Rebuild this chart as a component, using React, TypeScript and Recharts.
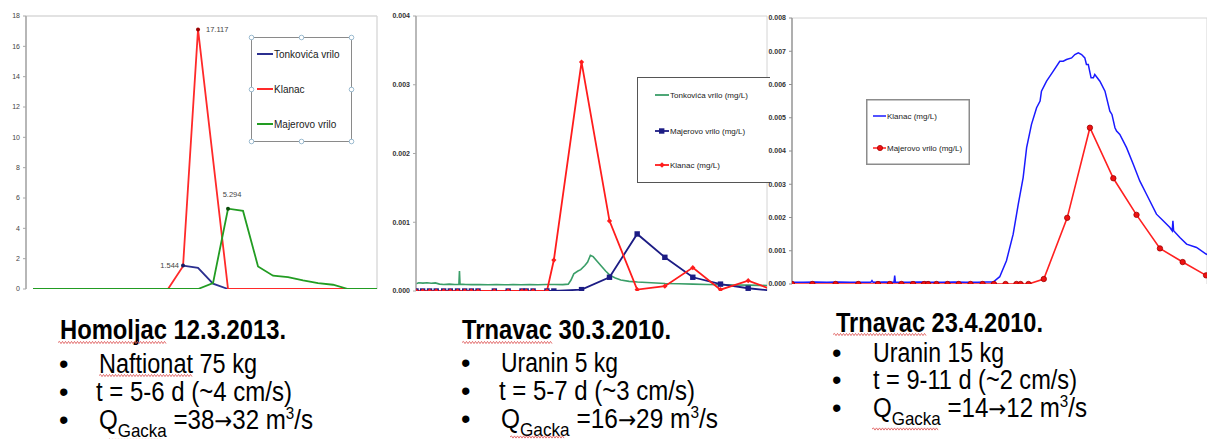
import React from 'react';
import { LineChart, Line, XAxis, YAxis, CartesianGrid, ReferenceLine, ReferenceDot, Legend } from 'recharts';

const FONT = '"Liberation Sans", Arial, Helvetica, sans-serif';

// ---------- Chart 1: Homoljac 12.3.2013 (x = sample index) ----------
const c1Names = ['Tonkovića vrilo', 'Klanac', 'Majerovo vrilo'];
const c1Colors = ['#2b2f8f', '#ff2a2a', '#229c22'];
const c1TonkX = [10, 11, 12, 13];
const c1TonkY = [1.544, 1.4, 0.35, 0];
const c1KlanacX = [9, 10, 11, 13, 23];
const c1KlanacY = [0, 1.5, 17.117, 0, 0];
const c1MajX = [0, 11, 12, 13, 14, 15, 16, 17, 18, 19, 20, 21, 23];
const c1MajY = [0, 0, 0.39, 5.294, 5.15, 1.49, 0.88, 0.79, 0.57, 0.39, 0.28, 0, 0];
const c1YTicks = [0, 2, 4, 6, 8, 10, 12, 14, 16, 18];
const c1GridX = [1.533, 3.533, 5.533, 7.533, 9.533, 11.533, 13.533, 15.533, 17.533, 19.533, 21.533];
const c1XDomain = [-0.467, 22.93];

// ---------- Chart 2: Trnavac 30.3.2010 (x = days) ----------
const c2Names = ['Tonkovića vrilo (mg/L)', 'Majerovo vrilo (mg/L)', 'Klanac (mg/L)'];
const c2Colors = ['#3a9e68', '#1c1c84', '#ff1c1c'];
const c2TonkX = [0, 0.1, 0.25, 0.4, 0.55, 0.7, 0.85, 1.0, 1.2, 1.4, 1.55, 1.57, 1.59, 1.8, 2.0, 2.3, 2.6, 2.9, 3.2, 3.5, 3.8, 4.1, 4.4, 4.7, 5.0, 5.3, 5.5, 5.6, 5.7, 5.85, 5.95, 6.1, 6.2, 6.3, 6.4, 6.55, 6.7, 6.85, 7.0, 7.2, 7.4, 7.7, 8.0, 8.5, 9.0, 9.5, 10.0, 10.5, 11.0, 11.5, 12.0, 12.4, 12.7];
const c2TonkY = [0.000105, 0.00012, 0.000115, 0.00012, 0.000112, 0.000118, 0.0001, 0.000095, 0.0001, 0.000095, 0.000097, 0.00029, 0.0001, 0.000095, 0.000093, 0.000095, 0.000092, 0.000094, 0.00009, 0.000093, 0.000092, 0.000095, 0.00009, 0.000094, 0.000095, 0.000093, 0.0001, 0.00016, 0.00025, 0.00029, 0.00031, 0.00037, 0.00042, 0.00052, 0.0005, 0.00043, 0.00036, 0.00029, 0.00023, 0.00019, 0.00016, 0.00014, 0.00013, 0.00012, 0.00011, 0.000105, 0.0001, 0.000095, 0.00009, 0.000088, 0.000085, 0.000082, 0.00008];
const c2MajX = [0, 0.24, 0.49, 0.73, 1.0, 1.24, 1.5, 1.76, 2.0, 2.24, 2.83, 3.33, 3.83, 3.98, 4.23, 4.73, 4.98, 5.98, 6.99, 7.99, 8.99, 10.0, 11.0, 12.0, 13.0];
const c2MajY = [0, 0, 0, 0, 0, 0, 0, 0, 0, 0, 0, 0, 0, 0, 0, 0, 0, 0.00002, 0.0002, 0.00083, 0.00049, 0.0002, 0.0001, 0.00004, 0];
const c2KlanacX = [0, 0.24, 0.49, 0.73, 1.0, 1.24, 1.5, 1.76, 2.0, 2.24, 2.83, 3.33, 3.83, 3.98, 4.23, 4.73, 4.98, 5.98, 6.99, 7.99, 8.99, 10.0, 11.0, 12.0, 13.0];
const c2KlanacY = [0, 0, 0, 0, 0, 0, 0, 0, 0, 0, 0, 0, 0, 0, 0, 0, 0.00045, 0.00333, 0.00102, 0.00002, 0.00007, 0.00034, 0.00002, 0.00015, 0];
const c2YTicks = [0, 0.001, 0.002, 0.003, 0.004];
const c2GridX = [1, 2, 3, 4, 5, 6, 7, 8, 9, 10, 11, 12];
const c2XDomain = [0, 12.68];

// ---------- Chart 3: Trnavac 23.4.2010 (x = days) ----------
const c3Names = ['Klanac (mg/L)', 'Majerovo vrilo (mg/L)'];
const c3Colors = ['#1a1aff', '#ff2020'];
const c3KlanacX = [0, 0.5, 1.0, 1.5, 2.0, 2.5, 3.0, 3.4, 3.45, 3.5, 4.0, 4.4, 4.43, 4.46, 5.0, 5.5, 6.0, 6.5, 7.0, 7.5, 8.0, 8.4, 8.68, 8.96, 9.25, 9.54, 9.76, 9.97, 10.12, 10.33, 10.55, 10.7, 10.76, 10.98, 11.27, 11.55, 11.7, 11.84, 12.06, 12.2, 12.35, 12.49, 12.63, 12.7, 12.78, 12.9, 13.0, 13.06, 13.28, 13.5, 13.71, 13.8, 13.93, 14.0, 14.14, 14.43, 14.72, 15.0, 15.29, 15.72, 16.01, 16.3, 16.4, 16.43, 16.46, 16.73, 17.02, 17.45, 17.86, 17.95];
const c3KlanacY = [0.00005, 0.00005, 0.00006, 0.00005, 0.00006, 0.00005, 0.00005, 0.00005, 0.0001, 0.00005, 0.00006, 0.00005, 0.00025, 0.00005, 0.00005, 0.00006, 0.00005, 0.00005, 0.00006, 0.00005, 0.00005, 0.00006, 0.00006, 0.00022, 0.0007, 0.0015, 0.0024, 0.0032, 0.0041, 0.0048, 0.0053, 0.0055, 0.0058, 0.0061, 0.0064, 0.0067, 0.0067, 0.00675, 0.0068, 0.0069, 0.00695, 0.0069, 0.0068, 0.0066, 0.0066, 0.0062, 0.0062, 0.0063, 0.0061, 0.0058, 0.0052, 0.0051, 0.0047, 0.0046, 0.0045, 0.0041, 0.0036, 0.0031, 0.0027, 0.0021, 0.0019, 0.0017, 0.0016, 0.0019, 0.0016, 0.0014, 0.0012, 0.0011, 0.0009, 0.00088];
const c3MajX = [0, 0.88, 1.88, 2.86, 3.71, 4.22, 4.72, 5.22, 5.7, 5.87, 6.23, 6.71, 7.19, 7.7, 8.22, 8.71, 9.21, 9.68, 9.86, 10.2, 10.86, 11.87, 12.85, 13.86, 14.86, 15.87, 16.85, 17.86];
const c3MajY = [0, 0, 0, 0, 0, 0, 0, 0, 0, 0, 0, 0, 0, 0, 0, 0, 0, 0, 0, 0, 0.00015, 0.00199, 0.0047, 0.00318, 0.00208, 0.00107, 0.00066, 0.00026];
const c3YTicks = [0, 0.001, 0.002, 0.003, 0.004, 0.005, 0.006, 0.007, 0.008];
const c3GridX = [1, 2, 3, 4, 5, 6, 7, 8, 9, 10, 11, 12, 13, 14, 15, 16, 17];
const c3XDomain = [0, 17.9];

// ---------- Text below the charts ----------
const blockTitles = ['Homoljac 12.3.2013.', 'Trnavac 30.3.2010.', 'Trnavac 23.4.2010.'];
const blockTracers = ['Naftionat 75 kg', 'Uranin 5 kg', 'Uranin 15 kg'];
const blockTimes = ['t = 5-6 d (~4 cm/s)', 't = 5-7 d (~3 cm/s)', 't = 9-11 d (~2 cm/s)'];
const blockFlowFrom = ['38', '16', '14'];
const blockFlowTo = ['32', '29', '12'];

const zip = (xs: number[], ys: number[]) => xs.map((x, i) => ({ x, y: ys[i] }));

const c1Series = [zip(c1TonkX, c1TonkY), zip(c1KlanacX, c1KlanacY), zip(c1MajX, c1MajY)];
const c1Labeled = [
  { s: 1, i: 2, pos: 'right', dot: '#9b0000', offset: 6, dx: 0 },
  { s: 2, i: 3, pos: 'top', dot: '#0a4f0a', offset: 10, dx: 4 },
  { s: 0, i: 0, pos: 'left', dot: '#1a1a60', offset: 2, dx: 0 },
];

const c2Series = [zip(c2TonkX, c2TonkY), zip(c2MajX, c2MajY), zip(c2KlanacX, c2KlanacY)];
const c3Series = [zip(c3KlanacX, c3KlanacY), zip(c3MajX, c3MajY)];

const fmt3 = (v: number) => v.toFixed(3);

function C1Legend() {
  const rowY = [17, 52, 87];
  const handles = [[0, 0], [50, 0], [100, 0], [0, 52], [100, 52], [0, 104], [50, 104], [100, 104]];
  return (
    <svg width={101} height={105} style={{ display: 'block', overflow: 'visible' }}>
      <rect x={0.5} y={0.5} width={100} height={104} fill="#fff" stroke="#8a8a8a" strokeWidth={1} />
      {c1Names.map((n, i) => (
        <g key={n}>
          <line x1={6} x2={22} y1={rowY[i]} y2={rowY[i]} stroke={c1Colors[i]} strokeWidth={2} />
          <text x={23} y={rowY[i]} dy="0.35em" fontSize={10} fill="#1a1a1a" fontFamily={FONT}>{n}</text>
        </g>
      ))}
      {handles.map(([hx, hy], k) => (
        <circle key={k} cx={hx + 0.5} cy={hy + 0.5} r={2.3} fill="#fff" stroke="#8fb2c9" strokeWidth={0.9} />
      ))}
    </svg>
  );
}

const Square = (color: string, h: number) => (p: any) => {
  const { cx, cy, index } = p;
  if (cx == null || cy == null) return <g key={`s${index}`} />;
  return <rect key={`s${index}`} x={cx - h} y={cy - h} width={2 * h} height={2 * h} fill={color} />;
};
const Diamond = (color: string, h: number) => (p: any) => {
  const { cx, cy, index } = p;
  if (cx == null || cy == null) return <g key={`d${index}`} />;
  return <path key={`d${index}`} d={`M${cx},${cy - h}L${cx + h},${cy}L${cx},${cy + h}L${cx - h},${cy}Z`} fill={color} />;
};

function C2Legend() {
  const rowY = [18, 54, 88];
  return (
    <svg width={140} height={106} style={{ display: 'block', overflow: 'visible' }}>
      <rect x={0.5} y={0.5} width={139} height={105} fill="#fff" stroke="#555" strokeWidth={1} />
      {c2Names.map((n, i) => (
        <g key={n}>
          <line x1={18} x2={32} y1={rowY[i]} y2={rowY[i]} stroke={c2Colors[i]} strokeWidth={1.8} />
          {i === 1 && <rect x={22} y={rowY[i] - 2.7} width={5.4} height={5.4} fill={c2Colors[i]} />}
          {i === 2 && <path d={`M25,${rowY[i] - 2.8}L27.8,${rowY[i]}L25,${rowY[i] + 2.8}L22.2,${rowY[i]}Z`} fill={c2Colors[i]} />}
          <text x={33} y={rowY[i]} dy="0.35em" fontSize={8} fill="#1a1a1a" fontFamily={FONT}>{n}</text>
        </g>
      ))}
    </svg>
  );
}

function C3Legend() {
  const rowY = [17, 49];
  return (
    <svg width={104} height={66} style={{ display: 'block', overflow: 'visible' }}>
      <rect x={0.75} y={0.75} width={102.5} height={64.5} fill="#fff" stroke="#8c8c8c" strokeWidth={1.5} />
      {c3Names.map((n, i) => (
        <g key={n}>
          <line x1={7} x2={20} y1={rowY[i]} y2={rowY[i]} stroke={c3Colors[i]} strokeWidth={1.5} />
          {i === 1 && <circle cx={14} cy={rowY[i]} r={2.6} fill="#ee1111" stroke="#a00" strokeWidth={0.8} />}
          <text x={21} y={rowY[i]} dy="0.35em" fontSize={8} fill="#1a1a1a" fontFamily={FONT}>{n}</text>
        </g>
      ))}
    </svg>
  );
}

const squiggle = (x1: number, x2: number, y: number) => {
  let d = `M${x1},${y}`;
  let up = true;
  for (let x = x1 + 1.5; x <= x2; x += 1.5) {
    d += `L${x},${y + (up ? -1.1 : 1.1)}`;
    up = !up;
  }
  return d;
};

const colLayout = [
  { tx: 60, ty: 39, tl: 226, bx: 59, rows: [{ x: 99, y: 73, l: 158 }, { x: 96, y: 101, l: 196 }, { x: 99, y: 129, l: 214 }] },
  { tx: 462, ty: 39, tl: 209, bx: 461, rows: [{ x: 501, y: 72, l: 117 }, { x: 499, y: 100, l: 196 }, { x: 501, y: 128, l: 217 }] },
  { tx: 836, ty: 32, tl: 207, bx: 832, rows: [{ x: 873, y: 62, l: 131 }, { x: 873, y: 89, l: 204 }, { x: 873, y: 117, l: 214 }] },
];
const squiggles = [
  [58, 166, 42.5], [99, 193, 75.5], [108, 163, 140],
  [462, 552, 42.5], [510, 565, 137],
  [833, 927, 34.5], [872, 938, 129],
];

function TextBlocks() {
  return (
    <svg width={1207} height={139} style={{ position: 'absolute', left: 0, top: 300 }} fontFamily={FONT}>
      {colLayout.map((c, k) => (
        <g key={k} fill="#000">
          <text x={c.tx} y={c.ty} fontSize={27} fontWeight="bold" textLength={c.tl} lengthAdjust="spacingAndGlyphs">{blockTitles[k]}</text>
          {c.rows.map((r, j) => (
            <text key={`b${j}`} x={c.bx} y={r.y} fontSize={27}>•</text>
          ))}
          <text x={c.rows[0].x} y={c.rows[0].y} fontSize={27} textLength={c.rows[0].l} lengthAdjust="spacingAndGlyphs">{blockTracers[k]}</text>
          <text x={c.rows[1].x} y={c.rows[1].y} fontSize={27} textLength={c.rows[1].l} lengthAdjust="spacingAndGlyphs">{blockTimes[k]}</text>
          <text x={c.rows[2].x} y={c.rows[2].y} fontSize={27} textLength={c.rows[2].l} lengthAdjust="spacingAndGlyphs">
            <tspan>Q</tspan>
            <tspan fontSize={19} dy={8}>Gacka</tspan>
            <tspan dy={-8}>{` =${blockFlowFrom[k]}`}</tspan>
            <tspan fontFamily='"DejaVu Sans", sans-serif' fontSize={24}>→</tspan>
            <tspan>{`${blockFlowTo[k]} m`}</tspan>
            <tspan fontSize={17} dy={-10}>3</tspan>
            <tspan dy={10}>/s</tspan>
          </text>
        </g>
      ))}
      {squiggles.map(([a, b, y], i) => (
        <path key={i} d={squiggle(a, b, y)} stroke="#e06060" strokeWidth={0.9} fill="none" />
      ))}
    </svg>
  );
}

export default function App() {
  return (
    <div style={{ position: 'absolute', left: 0, top: 0, width: 1207, height: 439, background: '#fff', overflow: 'hidden', fontFamily: FONT }}>
      {/* Chart 1 */}
      <div style={{ position: 'absolute', left: 0, top: 0, width: 380, height: 300 }}>
        <LineChart width={380} height={300} margin={{ top: 16, right: 3, bottom: 11, left: 0 }}>
          <CartesianGrid horizontal={false} stroke="#d9d9d9" strokeWidth={1.4} />
          <XAxis type="number" dataKey="x" domain={c1XDomain} ticks={c1GridX} allowDataOverflow tick={false} tickLine={false} height={0} axisLine={{ stroke: '#c8c8c8' }} />
          <YAxis type="number" domain={[0, 18]} ticks={c1YTicks} interval={0} width={26} tickSize={3} tickMargin={3} allowDataOverflow
            tick={{ fontSize: 7, fill: '#444' }} axisLine={{ stroke: '#a8a8a8', strokeWidth: 1.5 }} tickLine={{ stroke: '#a8a8a8' }} />
          <ReferenceLine y={18} stroke="#d9d9d9" strokeWidth={1.4} />
          {c1Series.map((d, i) => (
            <Line key={c1Names[i]} data={d} dataKey="y" name={c1Names[i]} type="linear" stroke={c1Colors[i]} strokeWidth={1.8} dot={false} isAnimationActive={false} />
          ))}
          {c1Labeled.map((m, k) => {
            const pt = c1Series[m.s][m.i];
            return (
              <ReferenceDot key={k} x={pt.x} y={pt.y} r={2} fill={m.dot} stroke="none"
                label={{ value: pt.y.toFixed(3), position: m.pos as any, offset: m.offset, dx: m.dx, fontSize: 7.5, fill: '#444' }} />
            );
          })}
          <Legend layout="horizontal" verticalAlign="middle" align="center" content={() => <C1Legend />}
            wrapperStyle={{ position: 'absolute', left: 251, top: 37, width: 101, height: 105 }} />
        </LineChart>
      </div>

      {/* Chart 2 */}
      <div style={{ position: 'absolute', left: 380, top: 0, width: 390, height: 300, overflow: 'hidden' }}>
        <LineChart width={390} height={300} margin={{ top: 16, right: 3, bottom: 9, left: 0 }}>
          <CartesianGrid horizontal={false} stroke="#d4d4d4" strokeWidth={1} />
          <XAxis type="number" dataKey="x" domain={c2XDomain} ticks={c2GridX} allowDataOverflow tick={false} tickLine={false} height={0} axisLine={{ stroke: '#b8b8b8' }} />
          <YAxis type="number" domain={[0, 0.004]} ticks={c2YTicks} interval={0} width={36} tickSize={3} tickMargin={3} tickFormatter={fmt3} allowDataOverflow
            tick={{ fontSize: 7, fill: '#333', fontWeight: 'bold' }} axisLine={{ stroke: '#a8a8a8', strokeWidth: 1.5 }} tickLine={{ stroke: '#a8a8a8' }} />
          <ReferenceLine y={0.004} stroke="#d4d4d4" strokeWidth={1} />
          <Line data={c2Series[0]} dataKey="y" name={c2Names[0]} type="linear" stroke={c2Colors[0]} strokeWidth={1.6} dot={false} isAnimationActive={false} />
          <Line data={c2Series[1]} dataKey="y" name={c2Names[1]} type="linear" stroke={c2Colors[1]} strokeWidth={1.8} dot={Square(c2Colors[1], 2.7)} isAnimationActive={false} />
          <Line data={c2Series[2]} dataKey="y" name={c2Names[2]} type="linear" stroke={c2Colors[2]} strokeWidth={1.8} dot={Diamond(c2Colors[2], 2.6)} isAnimationActive={false} />
          <Legend layout="horizontal" verticalAlign="middle" align="center" content={() => <C2Legend />}
            wrapperStyle={{ position: 'absolute', left: 257, top: 77, width: 140, height: 106 }} />
        </LineChart>
      </div>

      {/* Chart 3 */}
      <div style={{ position: 'absolute', left: 768, top: 0, width: 439, height: 300 }}>
        <LineChart width={439} height={300} margin={{ top: 18, right: 0, bottom: 16, left: 0 }}>
          <CartesianGrid horizontal={false} stroke="#d4d4d4" strokeWidth={1} />
          <XAxis type="number" dataKey="x" domain={c3XDomain} ticks={c3GridX} allowDataOverflow tick={false} tickLine={false} height={0} axisLine={{ stroke: '#a0a0a0' }} />
          <YAxis type="number" domain={[0, 0.008]} ticks={c3YTicks} interval={0} width={24} tickSize={3} tickMargin={3} tickFormatter={fmt3} allowDataOverflow
            tick={{ fontSize: 7, fill: '#333', fontWeight: 'bold' }} axisLine={{ stroke: '#909090', strokeWidth: 1.3 }} tickLine={{ stroke: '#909090' }} />
          <ReferenceLine y={0.008} stroke="#d4d4d4" strokeWidth={1} />
          <Line data={c3Series[0]} dataKey="y" name={c3Names[0]} type="linear" stroke={c3Colors[0]} strokeWidth={1.5} dot={false} isAnimationActive={false} />
          <Line data={c3Series[1]} dataKey="y" name={c3Names[1]} type="linear" stroke={c3Colors[1]} strokeWidth={1.6}
            dot={{ r: 2.7, fill: '#ee1111', stroke: '#a00000', strokeWidth: 0.8 }} isAnimationActive={false} />
          <Legend layout="horizontal" verticalAlign="middle" align="center" content={() => <C3Legend />}
            wrapperStyle={{ position: 'absolute', left: 98, top: 99, width: 104, height: 66 }} />
        </LineChart>
      </div>

      <TextBlocks />
    </div>
  );
}
